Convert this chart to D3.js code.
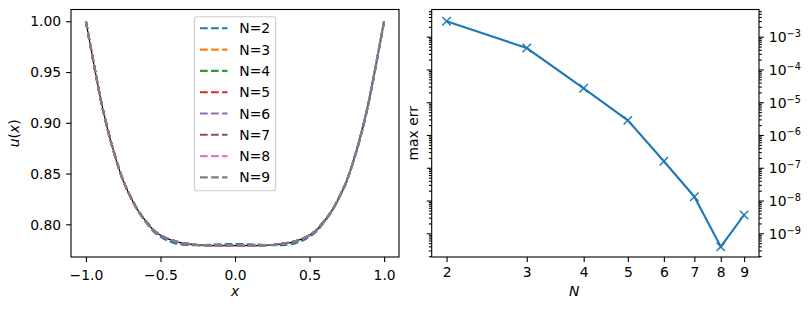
<!DOCTYPE html>
<html>
    <head>
        <meta charset='utf-8'>
        <title>u(x) and max err</title>
        <script src='https://cdnjs.cloudflare.com/ajax/libs/d3/7.8.5/d3.min.js'></script>
        <style>
            body { margin: 0; background: #fff; }
            svg { font-family: 'DejaVu Sans', sans-serif; }
        </style>
    </head>
    <body>
        <script>
            // left panel: x grid and read-off curve values
            const xGrid = [-1, -0.95, -0.9, -0.85, -0.8, -0.75, -0.7, -0.65, -0.6, -0.55, -0.5,
                -0.45, -0.4, -0.35, -0.3, -0.25, -0.2, -0.15, -0.1, -0.05, 0,
                0.05, 0.1, 0.15, 0.2, 0.25, 0.3, 0.35, 0.4, 0.45, 0.5,
                0.55, 0.6, 0.65, 0.7, 0.75, 0.8, 0.85, 0.9, 0.95, 1];
            const uExact = [1.0, 0.9605, 0.9225, 0.891, 0.865, 0.843, 0.827, 0.8135, 0.8035, 0.795, 0.7893,
                0.7857, 0.7832, 0.7815, 0.7804, 0.7797, 0.7793, 0.7791, 0.779, 0.779, 0.779,
                0.779, 0.779, 0.7791, 0.7793, 0.7797, 0.7804, 0.7815, 0.7832, 0.7857, 0.7893,
                0.795, 0.8035, 0.8135, 0.827, 0.843, 0.865, 0.891, 0.9225, 0.9605, 1.0];
            const uN2 = [1.0, 0.9605, 0.9228, 0.8918, 0.8655, 0.8432, 0.8268, 0.813, 0.8025, 0.7935, 0.7878,
                0.7838, 0.7812, 0.78, 0.7795, 0.7795, 0.7797, 0.78, 0.7803, 0.7805, 0.7806,
                0.7805, 0.7803, 0.78, 0.7797, 0.7795, 0.7795, 0.78, 0.7812, 0.7838, 0.7878,
                0.7935, 0.8025, 0.813, 0.8268, 0.8432, 0.8655, 0.8918, 0.9228, 0.9605, 1.0];
            const seriesNames = ['N=2', 'N=3', 'N=4', 'N=5', 'N=6', 'N=7', 'N=8', 'N=9'];
            const seriesColors = ['#1f77b4', '#ff7f0e', '#2ca02c', '#d62728', '#9467bd', '#8c564b', '#e377c2', '#7f7f7f'];
            const seriesValues = [uN2, uExact, uExact, uExact, uExact, uExact, uExact, uExact];
            const leftXTicks = [-1, -0.5, 0, 0.5, 1];
            const leftYTicks = [0.80, 0.85, 0.90, 0.95, 1.00];

            // right panel: max error against N
            const nValues = [2, 3, 4, 5, 6, 7, 8, 9];
            const maxErr = [2.95e-3, 4.5e-4, 2.66e-5, 2.8e-6, 1.58e-7, 1.31e-8, 3.9e-10, 3.62e-9];

            const fontSize = 13.9;
            const lw = 2.08;
            const tickW = 1.1;
            const majorLen = 4.9;
            const minorLen = 2.8;

            const svg = d3.select('body')
                .append('svg')
                .attr('width', 811)
                .attr('height', 311);

            const minus = (s) => s.replace('-', '\u2212');

            // ---------- left panel ----------
            const L = {left: 71, right: 399, top: 9.5, bottom: 257};
            const xL = d3.scaleLinear().domain([-1.1, 1.1]).range([L.left, L.right]);
            const yL = d3.scaleLinear().domain([0.7678, 1.0116]).range([L.bottom, L.top]);

            const left = svg.append('g').attr('id', 'left');

            const line = d3.line()
                .x((d, i) => xL(xGrid[i]))
                .y((d) => yL(d))
                .curve(d3.curveMonotoneX);

            // exact solution underneath, shows through the dash gaps
            left.append('path')
                .attr('d', line(uExact))
                .attr('fill', 'none')
                .attr('stroke', '#000')
                .attr('stroke-width', 1.2);

            seriesValues.forEach((vals, k) => {
                left.append('path')
                    .attr('d', line(vals))
                    .attr('fill', 'none')
                    .attr('stroke', seriesColors[k])
                    .attr('stroke-width', lw)
                    .attr('stroke-dasharray', '7.7,3.33');
            });

            const xAxisL = left.append('g')
                .attr('transform', 'translate(0,' + L.bottom + ')')
                .call(d3.axisBottom(xL).tickValues(leftXTicks).tickSize(majorLen)
                    .tickFormat((d) => minus(d3.format('.1f')(d))));
            xAxisL.selectAll('text').attr('y', 23).attr('dy', null);

            const yAxisL = left.append('g')
                .attr('transform', 'translate(' + L.left + ',0)')
                .call(d3.axisLeft(yL).tickValues(leftYTicks).tickSize(majorLen)
                    .tickFormat(d3.format('.2f')));
            yAxisL.selectAll('text').attr('x', -9.8).attr('dy', 4.7);

            left.append('rect')
                .attr('x', L.left).attr('y', L.top)
                .attr('width', L.right - L.left).attr('height', L.bottom - L.top)
                .attr('fill', 'none').attr('stroke', '#000').attr('stroke-width', tickW);

            left.append('text')
                .attr('x', (L.left + L.right) / 2).attr('y', 296)
                .attr('text-anchor', 'middle')
                .attr('font-style', 'italic')
                .attr('font-size', fontSize)
                .text('x');

            const uLabel = left.append('text')
                .attr('transform', 'translate(19,' + ((L.top + L.bottom) / 2) + ') rotate(-90)')
                .attr('text-anchor', 'middle')
                .attr('font-size', fontSize);
            uLabel.append('tspan').attr('font-style', 'italic').text('u');
            uLabel.append('tspan').text('(');
            uLabel.append('tspan').attr('font-style', 'italic').text('x');
            uLabel.append('tspan').text(')');

            // legend
            const legend = left.append('g').attr('id', 'legend');
            legend.append('rect')
                .attr('x', 194.3).attr('y', 16.7)
                .attr('width', 81.4).attr('height', 174)
                .attr('rx', 2.8)
                .attr('fill', '#fff').attr('fill-opacity', 0.8)
                .attr('stroke', '#cccccc').attr('stroke-width', tickW);
            seriesNames.forEach((name, k) => {
                const yy = 28.3 + k * 21.3;
                legend.append('line')
                    .attr('x1', 200).attr('x2', 227.5)
                    .attr('y1', yy).attr('y2', yy)
                    .attr('stroke', seriesColors[k])
                    .attr('stroke-width', lw)
                    .attr('stroke-dasharray', '7.7,3.33');
                legend.append('text')
                    .attr('x', 239.3).attr('y', yy + 5)
                    .attr('font-size', fontSize)
                    .text(name);
            });

            // ---------- right panel ----------
            const R = {left: 431.7, right: 759, top: 9.5, bottom: 257};
            const xR = d3.scaleLog().domain([Math.pow(10, 0.2684), Math.pow(10, 0.987)]).range([R.left, R.right]);
            const yR = d3.scaleLog().domain([Math.pow(10, -9.723), Math.pow(10, -2.17)]).range([R.bottom, R.top]);

            const right = svg.append('g').attr('id', 'right');

            const allTicks = yR.ticks();
            const isMajor = (v) => Math.abs(Math.log10(v) - Math.round(Math.log10(v))) < 1e-6;
            const majors = allTicks.filter(isMajor);
            const minors = allTicks.filter((v) => !isMajor(v));

            [[d3.axisLeft, R.left], [d3.axisRight, R.right]].forEach(([axisFn, xx]) => {
                right.append('g')
                    .attr('transform', 'translate(' + xx + ',0)')
                    .call(axisFn(yR).tickValues(minors).tickSize(minorLen).tickFormat(''));
                right.append('g')
                    .attr('class', axisFn === d3.axisRight ? 'ylabels' : '')
                    .attr('transform', 'translate(' + xx + ',0)')
                    .call(axisFn(yR).tickValues(majors).tickSize(majorLen).tickFormat(''));
            });

            // 10^k labels on the right side
            right.select('.ylabels').selectAll('.tick').each(function(d) {
                const t = d3.select(this).append('text')
                    .attr('x', 9.8).attr('y', 5)
                    .attr('fill', '#000')
                    .attr('font-size', fontSize)
                    .attr('text-anchor', 'start');
                t.append('tspan').text('10');
                t.append('tspan')
                    .attr('dy', -5.2)
                    .attr('font-size', fontSize * 0.7)
                    .text(minus(String(Math.round(Math.log10(d)))));
            });

            const xAxisR = right.append('g')
                .attr('transform', 'translate(0,' + R.bottom + ')')
                .call(d3.axisBottom(xR).tickValues(nValues).tickSize(majorLen).tickFormat(d3.format('d')));
            xAxisR.selectAll('text').attr('y', 20.3).attr('dy', null);

            right.selectAll('.domain').remove();
            left.selectAll('.domain').remove();
            svg.selectAll('.tick line').attr('stroke', '#000').attr('stroke-width', tickW);
            svg.selectAll('.tick text').attr('fill', '#000').attr('font-size', fontSize)
                .attr('font-family', "'DejaVu Sans', sans-serif");

            right.append('path')
                .datum(nValues)
                .attr('d', d3.line().x((d) => xR(d)).y((d, i) => yR(maxErr[i])))
                .attr('fill', 'none')
                .attr('stroke', '#1f77b4')
                .attr('stroke-width', lw);

            const mk = 4.2;
            right.selectAll('.marker')
                .data(nValues)
                .enter()
                .append('path')
                .attr('class', 'marker')
                .attr('transform', (d, i) => 'translate(' + xR(d) + ',' + yR(maxErr[i]) + ')')
                .attr('d', 'M' + (-mk) + ',' + (-mk) + 'L' + mk + ',' + mk + 'M' + (-mk) + ',' + mk + 'L' + mk + ',' + (-mk))
                .attr('stroke', '#1f77b4')
                .attr('stroke-width', 1.4);

            right.append('rect')
                .attr('x', R.left).attr('y', R.top)
                .attr('width', R.right - R.left).attr('height', R.bottom - R.top)
                .attr('fill', 'none').attr('stroke', '#000').attr('stroke-width', tickW);

            right.append('text')
                .attr('x', 574.3).attr('y', 296)
                .attr('text-anchor', 'middle')
                .attr('font-style', 'italic')
                .attr('font-size', fontSize)
                .text('N');

            right.append('text')
                .attr('transform', 'translate(418.3,' + ((R.top + R.bottom) / 2) + ') rotate(-90)')
                .attr('text-anchor', 'middle')
                .attr('font-size', fontSize)
                .text('max err');
        </script>
    </body>
</html>
